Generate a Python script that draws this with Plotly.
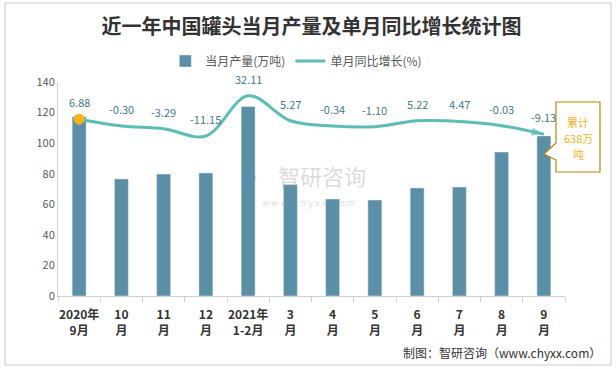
import plotly.graph_objects as go

categories = ["2020年<br>9月", "10<br>月", "11<br>月", "12<br>月", "2021年<br>1-2月", "3<br>月",
              "4<br>月", "5<br>月", "6<br>月", "7<br>月", "8<br>月", "9<br>月"]
output = [117.3, 76.6, 79.8, 80.5, 123.9, 72.9, 63.5, 62.8, 70.7, 71.3, 94.2, 104.7]
growth = [6.88, -0.30, -3.29, -11.15, 32.11, 5.27, -0.34, -1.10, 5.22, 4.47, -0.03, -9.13]
growth_labels = ["6.88", "-0.30", "-3.29", "-11.15", "32.11", "5.27", "-0.34", "-1.10",
                 "5.22", "4.47", "-0.03", "-9.13"]

W, H = 616, 369
ML, MR, MT, MB = 58, 51, 82, 73
FONT = "Noto Sans CJK SC"
BAR = "#5b8fa6"
LINE = "#5cbdb4"

fig = go.Figure()
fig.add_trace(go.Bar(x=categories, y=output, name="当月产量(万吨)", marker_color=BAR,
                     width=0.33, yaxis="y"))
fig.add_trace(go.Scatter(x=categories, y=growth, name="单月同比增长(%)", mode="lines",
                         line=dict(color=LINE, width=3, shape="spline", smoothing=1.0),
                         yaxis="y2"))
fig.add_trace(go.Scatter(x=categories[:1], y=growth[:1], mode="markers", showlegend=False,
                         marker=dict(color="#f5b31a", size=11), yaxis="y2"))
fig.add_trace(go.Scatter(x=categories[-2:], y=growth[-2:], mode="markers", showlegend=False,
                         marker=dict(color=LINE, size=[0, 13], symbol=["circle", "arrow"],
                                     angleref="previous", line=dict(width=0)),
                         yaxis="y2"))

for c, g, t in zip(categories, growth, growth_labels):
    fig.add_annotation(x=c, y=g, yref="y2", text=t, showarrow=False, yshift=17,
                       font=dict(family=FONT, size=11, color="#3f7a88"))

def px(x, y):
    return (x - ML) / (W - ML - MR), 1 - (y - MT) / (H - MT - MB)

# callout box
pts = [(556, 102), (600, 102), (600, 172), (556, 172), (556, 160), (544, 154), (556, 143)]
path = ""
for i, (a, b) in enumerate(pts):
    u, v = px(a, b)
    path += ("M" if i == 0 else "L") + f"{u:.4f},{v:.4f} "
path += "Z"
fig.add_shape(type="path", path=path, xref="paper", yref="paper",
              line=dict(color="#b8860b", width=1.2), fillcolor="white", layer="above")
for txt, yy in [("累计", 122), ("638万", 138), ("吨", 154)]:
    cu, cv = px(578, yy)
    fig.add_annotation(x=cu, y=cv, xref="paper", yref="paper", text=txt, xanchor="center",
                       yanchor="middle", showarrow=False,
                       font=dict(family=FONT, size=11, color="#f5b31a"))

# watermark
wu, wv = px(322, 175)
fig.add_annotation(x=wu, y=wv, xref="paper", yref="paper", text="智研咨询", showarrow=False,
                   xanchor="center", yanchor="middle",
                   font=dict(family=FONT, size=22, color="rgba(150,150,150,0.35)"))
wu, wv = px(308, 202)
fig.add_annotation(x=wu, y=wv, xref="paper", yref="paper", text="w w w . c h y x x . c o m",
                   showarrow=False, xanchor="center", yanchor="middle",
                   font=dict(family=FONT, size=9, color="rgba(150,150,150,0.35)"))
iu, iv = px(250, 175)
fig.add_annotation(x=iu, y=iv, xref="paper", yref="paper", text="<b>e</b>", showarrow=False,
                   xanchor="center", yanchor="middle",
                   font=dict(family=FONT, size=24, color="rgba(90,140,200,0.25)"))

# footer
fu, fv = px(603, 352)
fig.add_annotation(x=fu, y=fv, xref="paper", yref="paper", xanchor="right", yanchor="middle",
                   text="制图：智研咨询（www.chyxx.com）", showarrow=False,
                   font=dict(family=FONT, size=12, color="#333333"))

# border
bu0, bv0 = px(5, 3)
bu1, bv1 = px(611, 365)
fig.add_shape(type="rect", xref="paper", yref="paper", x0=bu0, y0=bv1, x1=bu1, y1=bv0,
              line=dict(color="#c8c8c8", width=1), layer="below")

fig.update_layout(
    width=W, height=H, margin=dict(l=ML, r=MR, t=MT, b=MB, autoexpand=False),
    paper_bgcolor="white", plot_bgcolor="white",
    title=dict(text="近一年中国罐头当月产量及单月同比增长统计图", x=0.5, xref="paper",
               y=1 - 27 / H, yanchor="middle", xanchor="center",
               font=dict(family=FONT, size=20, color="#333333", weight="bold")),
    legend=dict(orientation="h", x=0.47, xanchor="center", y=1 + 21 / (H - MT - MB),
                yanchor="middle", font=dict(family=FONT, size=12, color="#595959"),
                itemwidth=30),
    showlegend=True,
    xaxis=dict(type="category", range=[-0.5, len(categories) - 0.5], showline=True,
               linecolor="#d0d0d0", ticks="outside",
               tickson="boundaries", ticklen=5, tickcolor="#d0d0d0", showgrid=False,
               tickangle=0, automargin=False, ticklabelstandoff=8,
               tickfont=dict(family=FONT, size=12, color="#333333", weight="bold")),
    yaxis=dict(range=[0, 140], dtick=20, showgrid=False, showline=True, linecolor="#d0d0d0",
               zeroline=False, automargin=False,
               tickfont=dict(family=FONT, size=11, color="#595959")),
    yaxis2=dict(range=[-183.2, 46.9], overlaying="y", side="right", visible=False,
                showgrid=False, zeroline=False, automargin=False),
    bargap=0.5,
)

fig.write_html("out.html", config={"displayModeBar": False},
               post_script="document.body.style.margin='0';")
